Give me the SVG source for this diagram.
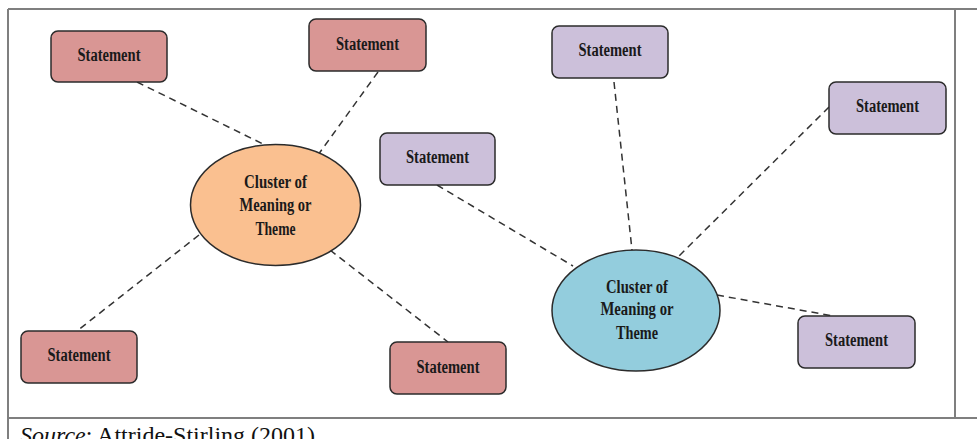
<svg xmlns="http://www.w3.org/2000/svg" width="977" height="439" viewBox="0 0 977 439">
<style>
.frame{stroke:#7f7f7f;stroke-width:2;fill:none}
.box{stroke:#2b2b2b;stroke-width:1.5}
.red{fill:#d99694}
.pur{fill:#ccc0da}
.ell{stroke:#2b2b2b;stroke-width:1.5}
.lbl{font-family:"Liberation Serif","Times New Roman",serif;font-weight:bold;font-size:18px;fill:#1a1a1a;text-anchor:middle}
.conn{stroke:#333;stroke-width:1.5;stroke-dasharray:7,5;fill:none}
.src{font-family:"Liberation Serif","Times New Roman",serif;font-size:24px;fill:#111}
</style>
<rect width="977" height="439" fill="#fff"/>
<g id="frame">
<line class="frame" x1="8" y1="9" x2="977" y2="9"/>
<line class="frame" x1="8" y1="9" x2="8" y2="439"/>
<line class="frame" x1="955" y1="9" x2="955" y2="418"/>
<line class="frame" x1="8" y1="418" x2="977" y2="418"/>
</g>
<g id="connectors">
<line class="conn" x1="137" y1="82" x2="265" y2="145"/>
<line class="conn" x1="378" y1="72" x2="318" y2="155"/>
<line class="conn" x1="199" y1="235" x2="77" y2="331"/>
<line class="conn" x1="330" y1="250" x2="448" y2="342"/>
<line class="conn" x1="437" y1="185" x2="573" y2="266"/>
<line class="conn" x1="614" y1="82" x2="632" y2="250"/>
<line class="conn" x1="829" y1="107" x2="679" y2="256"/>
<line class="conn" x1="717" y1="295" x2="833" y2="316"/>
</g>
<g id="theme1">
<ellipse class="ell" cx="275.5" cy="205" rx="85" ry="60.5" fill="#fac090"/>
<text class="lbl" x="275.5" y="188" textLength="63" lengthAdjust="spacingAndGlyphs">Cluster of</text>
<text class="lbl" x="275.5" y="211" textLength="72" lengthAdjust="spacingAndGlyphs">Meaning or</text>
<text class="lbl" x="275.5" y="235" textLength="40" lengthAdjust="spacingAndGlyphs">Theme</text>
</g>
<g id="theme2">
<ellipse class="ell" cx="636" cy="310.5" rx="84" ry="60.5" fill="#93cddd"/>
<text class="lbl" x="637" y="293" textLength="62" lengthAdjust="spacingAndGlyphs">Cluster of</text>
<text class="lbl" x="637" y="315" textLength="73" lengthAdjust="spacingAndGlyphs">Meaning or</text>
<text class="lbl" x="637" y="339" textLength="42" lengthAdjust="spacingAndGlyphs">Theme</text>
</g>
<g id="s1"><rect class="box red" x="51" y="31" width="116" height="51" rx="7"/><text class="lbl" x="109" y="61" textLength="63" lengthAdjust="spacingAndGlyphs">Statement</text></g>
<g id="s2"><rect class="box red" x="309" y="19" width="117" height="52" rx="7"/><text class="lbl" x="367.5" y="49.5" textLength="63" lengthAdjust="spacingAndGlyphs">Statement</text></g>
<g id="s3"><rect class="box red" x="21" y="331" width="116" height="52" rx="7"/><text class="lbl" x="79" y="361" textLength="63" lengthAdjust="spacingAndGlyphs">Statement</text></g>
<g id="s4"><rect class="box red" x="390" y="342" width="116" height="52" rx="7"/><text class="lbl" x="448" y="372.5" textLength="63" lengthAdjust="spacingAndGlyphs">Statement</text></g>
<g id="s5"><rect class="box pur" x="380" y="133" width="115" height="52" rx="7"/><text class="lbl" x="437.5" y="163" textLength="63" lengthAdjust="spacingAndGlyphs">Statement</text></g>
<g id="s6"><rect class="box pur" x="552" y="26" width="116" height="52" rx="7"/><text class="lbl" x="610" y="55.5" textLength="63" lengthAdjust="spacingAndGlyphs">Statement</text></g>
<g id="s7"><rect class="box pur" x="829" y="82" width="117" height="52" rx="7"/><text class="lbl" x="887.5" y="111.5" textLength="63" lengthAdjust="spacingAndGlyphs">Statement</text></g>
<g id="s8"><rect class="box pur" x="798" y="316" width="117" height="52" rx="7"/><text class="lbl" x="856.5" y="346" textLength="63" lengthAdjust="spacingAndGlyphs">Statement</text></g>
<text class="src" x="20" y="443"><tspan font-style="italic">Source</tspan>: Attride-Stirling (2001)</text>
</svg>
